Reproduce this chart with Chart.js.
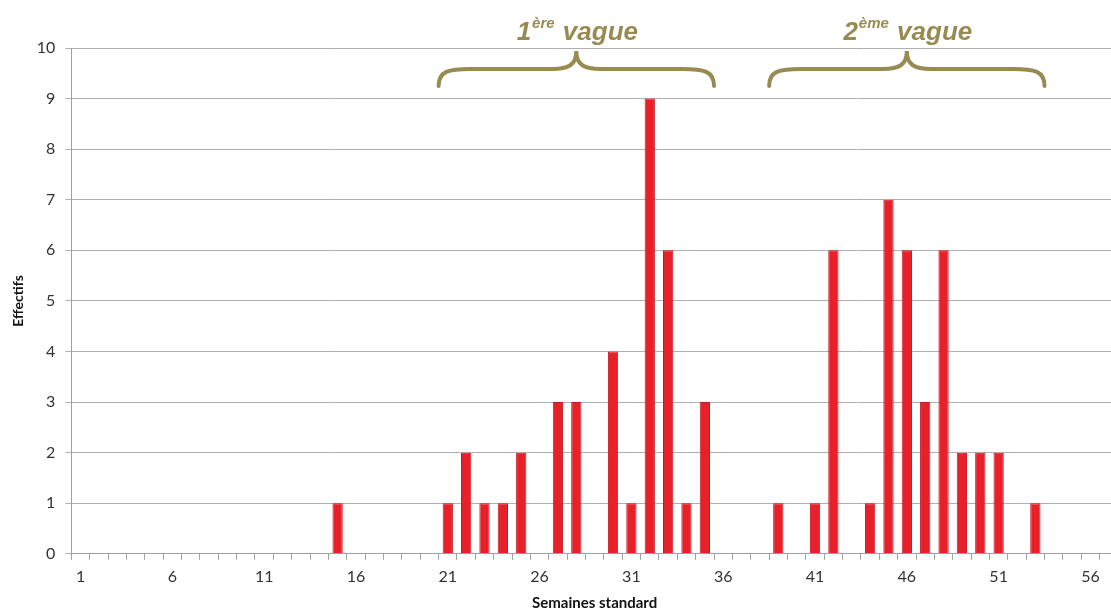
<!DOCTYPE html>
<html>
<head>
<meta charset="utf-8">
<script src="https://cdn.jsdelivr.net/npm/chart.js@4"></script>
<style>
  html, body { margin: 0; padding: 0; background: #fff; overflow: hidden; }
  #wrap { width: 1125px; height: 612px; }
</style>
</head>
<body>
<div id="wrap"><canvas id="bar-chart"></canvas></div>
<script>
// semaines standard (axe X)
var semaines = [1, 2, 3, 4, 5, 6, 7, 8, 9, 10, 11, 12, 13, 14, 15, 16, 17, 18, 19, 20,
  21, 22, 23, 24, 25, 26, 27, 28, 29, 30, 31, 32, 33, 34, 35, 36, 37, 38, 39, 40,
  41, 42, 43, 44, 45, 46, 47, 48, 49, 50, 51, 52, 53, 54, 55, 56, 57];
// semaines ayant des cas, et effectifs
var semainesCas = [15, 21, 22, 23, 24, 25, 27, 28, 30, 31, 32, 33, 34, 35,
  39, 41, 42, 44, 45, 46, 47, 48, 49, 50, 51, 53];
var effectifs = [1, 1, 2, 1, 1, 2, 3, 3, 4, 1, 9, 6, 1, 3,
  1, 1, 6, 1, 7, 6, 3, 6, 2, 2, 2, 1];
var yTicks = [0, 1, 2, 3, 4, 5, 6, 7, 8, 9, 10];

// les deux vagues (bornes en semaines)
var vagues = [
  { num: '1', sup: 'ère', from: 20.5, to: 35.5 },
  { num: '2', sup: 'ème', from: 38.5, to: 53.5 }
];

var serie = semaines.map(function(s) {
  var i = semainesCas.indexOf(s);
  return i >= 0 ? effectifs[i] : null;
});

var olive = '#978b52';

var vaguePlugin = {
  id: 'vagues',
  afterDraw: function(chart) {
    var ctx = chart.ctx;
    var x = chart.scales.x;
    var top = chart.chartArea.top;
    vagues.forEach(function(v) {
      var x1 = x.getPixelForValue(v.from - 1);
      var x2 = x.getPixelForValue(v.to - 1);
      var xm = (x1 + x2) / 2;
      var yTip = top + 3, yMid = top + 21, yEnd = top + 38;
      ctx.save();
      ctx.strokeStyle = olive;
      ctx.lineWidth = 4;
      ctx.lineCap = 'round';
      ctx.beginPath();
      ctx.moveTo(x1, yEnd);
      ctx.bezierCurveTo(x1, yMid + 2, x1 + 10, yMid, x1 + 32, yMid);
      ctx.lineTo(xm - 24, yMid);
      ctx.bezierCurveTo(xm - 8, yMid, xm, yMid - 4, xm, yTip);
      ctx.bezierCurveTo(xm, yMid - 4, xm + 8, yMid, xm + 24, yMid);
      ctx.lineTo(x2 - 32, yMid);
      ctx.bezierCurveTo(x2 - 10, yMid, x2, yMid + 2, x2, yEnd);
      ctx.stroke();

      // texte "1ère vague"
      var big = 'italic bold 26px "Liberation Sans", Arial, sans-serif';
      var small = 'italic bold 15px "Liberation Sans", Arial, sans-serif';
      ctx.fillStyle = olive;
      ctx.textBaseline = 'alphabetic';
      ctx.font = big;
      var w1 = ctx.measureText(v.num).width;
      var w3 = ctx.measureText(' vague').width;
      ctx.font = small;
      var w2 = ctx.measureText(v.sup).width;
      var start = xm - (w1 + w2 + w3) / 2;
      var base = top - 8;
      ctx.font = big;
      ctx.fillText(v.num, start, base);
      ctx.font = small;
      ctx.fillText(v.sup, start + w1 + 1, base - 12);
      ctx.font = big;
      ctx.fillText(' vague', start + w1 + w2 + 2, base);
      ctx.restore();
    });
  }
};

var ctx = document.getElementById('bar-chart').getContext('2d');
var chart = new Chart(ctx, {
  type: 'bar',
  data: {
    labels: semaines,
    datasets: [{
      data: serie,
      backgroundColor: '#e8202a',
      borderColor: '#c41a21',
      borderWidth: 1,
      categoryPercentage: 1,
      barPercentage: 0.56
    }]
  },
  options: {
    responsive: true,
    maintainAspectRatio: false,
    animation: false,
    layout: { padding: { top: 48, right: 7, left: 0, bottom: 0 } },
    plugins: {
      legend: { display: false },
      tooltip: { enabled: false }
    },
    scales: {
      x: {
        grid: {
          offset: true,
          drawOnChartArea: false,
          drawTicks: true,
          tickLength: 6,
          color: '#a0a0a0'
        },
        border: { color: '#a0a0a0' },
        ticks: {
          autoSkip: false,
          maxRotation: 0,
          padding: 7,
          color: '#333',
          font: { family: 'Lato', size: 16 },
          callback: function(val, i) { return i % 5 === 0 ? semaines[i] : ''; }
        },
        title: {
          display: true,
          text: 'Semaines standard',
          color: '#111',
          font: { family: 'Lato', size: 15, weight: 'bold' },
          padding: { top: 1, bottom: 0 }
        }
      },
      y: {
        min: 0,
        max: 10,
        afterBuildTicks: function(scale) {
          scale.ticks = yTicks.map(function(v) { return { value: v }; });
        },
        grid: { color: '#b0b0b0', tickLength: 6 },
        border: { color: '#a0a0a0' },
        ticks: {
          padding: 10,
          color: '#333',
          font: { family: 'Lato', size: 16 }
        },
        title: {
          display: true,
          text: 'Effectifs',
          color: '#111',
          font: { family: 'Lato', size: 14, weight: 'bold' },
          padding: { top: 10, bottom: 0 }
        }
      }
    }
  },
  plugins: [vaguePlugin]
});
</script>
</body>
</html>
